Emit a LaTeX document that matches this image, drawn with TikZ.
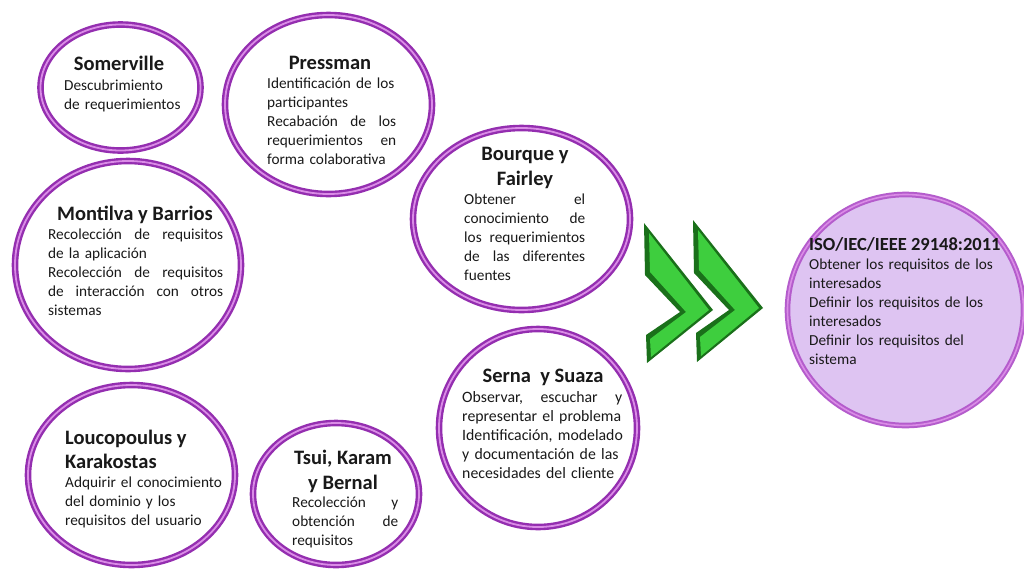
\documentclass[tikz,border=0pt]{standalone}
\usepackage{fontspec}
\setmainfont{Carlito}
\usetikzlibrary{shapes.geometric}
\definecolor{ringP}{RGB}{148,46,176}
\definecolor{ringL}{RGB}{218,140,230}
\definecolor{isoF}{RGB}{222,196,242}
\definecolor{isoP}{RGB}{180,92,204}
\definecolor{chevD}{RGB}{26,112,26}
\definecolor{chevG}{RGB}{62,206,62}
\definecolor{txt}{RGB}{25,25,25}
\newcommand{\jl}[2]{\leavevmode\hbox to #1pt{#2}}
\tikzset{
  ring/.style args={#1x#2}{ellipse, draw=ringP, line width=2.4pt, double=ringL, double distance=1.8pt,
    inner sep=0pt, minimum width=#1pt, minimum height=#2pt},
  isoring/.style args={#1x#2}{ellipse, draw=isoP, line width=2pt, double=ringL, double distance=1.6pt,
    fill=isoF, inner sep=0pt, minimum width=#1pt, minimum height=#2pt},
  ttl/.style={font=\bfseries\fontsize{20.5}{24.5}\selectfont, text=txt, inner sep=0pt, anchor=base, align=center},
  ttlw/.style={font=\bfseries\fontsize{20.5}{24}\selectfont, text=txt, inner sep=0pt, anchor=base west, align=left},
  body/.style={font=\fontsize{15.3}{19}\selectfont, text=txt, inner sep=0pt, anchor=base west, align=left, text width=240pt},
}
\begin{document}
\begin{tikzpicture}[x=1pt,y=-1pt]
\useasboundingbox[fill=white] (0,0) rectangle (1024,571);

% rings
\node[ring=160x126] (som) at (120.5,87.5) {};
\node[ring=207x179] (pre) at (328.5,104.5) {};
\node[ring=226x208] (mon) at (128,265) {};
\node[ring=217x182] (bou) at (521.5,219) {};
\node[ring=198x198] (ser) at (538,428) {};
\node[ring=207x180] (lou) at (131.5,475) {};
\node[ring=166x142] (tsu) at (336,494) {};
\node[isoring=236x231] (iso) at (905.5,310) {};

% Somerville
\node[ttl] (somT) at (119,70) {Somerville};
\node[body] (somB) at (64,90) {Descubrimiento\\de requerimientos};

% Pressman
\node[ttl] (preT) at (330,69) {Pressman};
\node[body] (preB) at (267,88) {Identificación de los\\participantes\\\jl{129}{Recabación\hfill de\hfill los}\\\jl{129}{requerimientos\hfill en}\\forma colaborativa};

% Montilva
\node[ttl] (monT) at (135,220) {Montilva y Barrios};
\node[body] (monB) at (48,239) {\jl{175}{Recolección\hfill de\hfill requisitos}\\de la aplicación\\\jl{175}{Recolección\hfill de\hfill requisitos}\\\jl{175}{de\hfill interacción\hfill con\hfill otros}\\sistemas};

% Bourque
\node[ttl] (bouT) at (525,185) {Bourque y\\Fairley};
\node[body] (bouB) at (464,204) {\jl{121}{Obtener\hfill el}\\\jl{121}{conocimiento\hfill de}\\\jl{121}{los\hfill requerimientos}\\\jl{121}{de\hfill las\hfill diferentes}\\fuentes};

% Serna
\node[ttl] (serT) at (543,382) {Serna\ \ y Suaza};
\node[body, font=\fontsize{15.8}{19}\selectfont] (serB) at (462,402) {\jl{160}{Observar,\hfill escuchar\hfill y}\\representar el problema\\Identificación, modelado\\y documentación de las\\necesidades del cliente};

% Loucopoulus
\node[ttlw] (louT) at (65,468) {Loucopoulus y\\Karakostas};
\node[body] (louB) at (65,487) {Adquirir el conocimiento\\del dominio y los\\requisitos del usuario};

% Tsui
\node[ttl] (tsuT) at (343,489) {Tsui, Karam\\y Bernal};
\node[body] (tsuB) at (292,507) {\jl{106}{Recolección\hfill y}\\\jl{106}{obtención\hfill de}\\requisitos};

% ISO
\node[font=\bfseries\fontsize{18.5}{22}\selectfont, text=txt, inner sep=0pt, anchor=base west] (isoT) at (809,250) {ISO/IEC/IEEE 29148:2011};
\node[body] (isoB) at (809,269) {Obtener los requisitos de los\\interesados\\Definir los requisitos de los\\interesados\\Definir los requisitos del\\sistema};

% chevrons
\fill[chevD] (644,223) -- (713,310) -- (647,363) -- (646,335) -- (680,312) -- (645,275) -- cycle;
\fill[chevG] (649,233) -- (709,310) -- (651,357) -- (650,339) -- (686,312) -- (650,272) -- cycle;
\fill[chevD] (693,220) -- (763,308) -- (697,362) -- (696,333) -- (729,310) -- (694,273) -- cycle;
\fill[chevG] (698,230) -- (759,308) -- (701,356) -- (700,337) -- (735,310) -- (699,270) -- cycle;
\end{tikzpicture}
\end{document}
